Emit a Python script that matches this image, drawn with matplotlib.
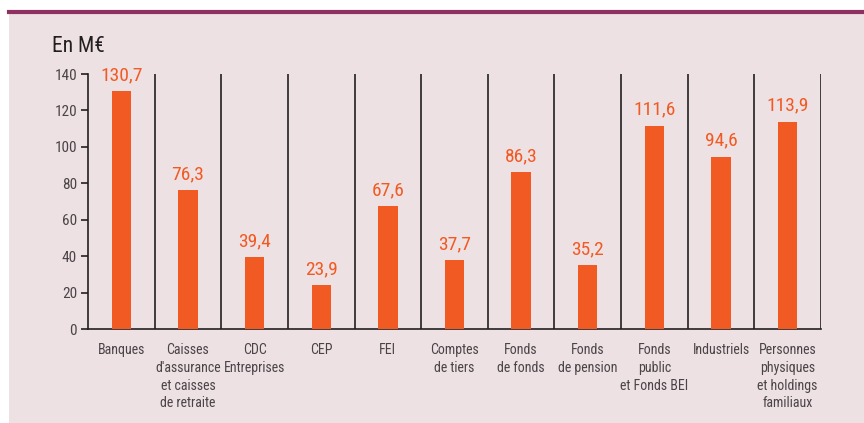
import matplotlib
matplotlib.use("Agg")
import matplotlib.pyplot as plt
from matplotlib.lines import Line2D
from matplotlib.patches import Rectangle
from matplotlib import font_manager

categories = ["Banques", "Caisses\nd'assurance\net caisses\nde retraite", "CDC\nEntreprises", "CEP", "FEI",
              "Comptes\nde tiers", "Fonds\nde fonds", "Fonds\nde pension", "Fonds\npublic\net Fonds BEI",
              "Industriels", "Personnes\nphysiques\net holdings\nfamiliaux"]
values = [130.7, 76.3, 39.4, 23.9, 67.6, 37.7, 86.3, 35.2, 111.6, 94.6, 113.9]
value_labels = ["130,7", "76,3", "39,4", "23,9", "67,6", "37,7", "86,3", "35,2", "111,6", "94,6", "113,9"]
yticks = [0, 20, 40, 60, 80, 100, 120, 140]

# pick a condensed font if one is installed
fonts = font_manager.fontManager.ttflist
names = {f.name for f in fonts}
family, stretch, condensed = None, "normal", False
for cand in ["Liberation Sans Narrow", "Roboto Condensed", "Open Sans Condensed", "DejaVu Sans Condensed",
             "Noto Sans Condensed", "Arial Narrow"]:
    if cand in names:
        family, condensed = cand, True
        break
if family is None:
    for f in fonts:
        if f.name in ("Roboto", "Open Sans", "Noto Sans", "DejaVu Sans", "Liberation Sans") and \
                str(f.stretch) in ("condensed", "semi-condensed", "extra-condensed", "75", "87.5") and f.weight in (400, "normal", "regular"):
            family, stretch, condensed = f.name, f.stretch, True
            break
if family is None:
    family = "Liberation Sans"

plt.rcParams['font.family'] = [family, 'DejaVu Sans']
plt.rcParams['font.stretch'] = stretch

cat_fs = 10 if condensed else 8.6
tick_fs = 11 if condensed else 10
val_fs = 14 if condensed else 12.5
title_fs = 15.5 if condensed else 14

BG = "#EDE1E4"
ORANGE = "#F15A22"
PURPLE = "#8E3060"
TXT = "#4a4446"

fig = plt.figure(figsize=(8.64, 4.23), dpi=100)
fig.patch.set_facecolor("white")
fig.patches.append(Rectangle((9/864, 0), 1, 1 - 14/423, transform=fig.transFigure,
                             facecolor=BG, edgecolor="none", zorder=-10))
fig.lines.append(Line2D([9/864, 1], [1 - 12.5/423, 1 - 12.5/423], transform=fig.transFigure,
                        color=PURPLE, lw=3))

ax = fig.add_axes([88/864, 1 - 329/423, (821 - 88)/864, (329 - 74)/423])
ax.set_facecolor("none")
n = len(categories)
x = list(range(n))
ax.bar(x, values, width=0.29, color=ORANGE, zorder=3)
ax.set_xlim(-0.5, n - 0.5)
ax.set_ylim(0, 140)
for i in range(n):
    ax.plot([i + 0.5, i + 0.5], [0, 140], color="#231f20", lw=1.2, zorder=2)
for i, (v, lab) in enumerate(zip(values, value_labels)):
    ax.annotate(lab, (i, v), xytext=(0, 5), textcoords="offset points", ha="center", va="bottom",
                color=ORANGE, fontsize=val_fs, clip_on=False)

for s in ["top", "right"]:
    ax.spines[s].set_visible(False)
for s in ["left", "bottom"]:
    ax.spines[s].set_color("#231f20")
    ax.spines[s].set_linewidth(1.2)
ax.set_yticks(yticks)
ax.set_yticklabels([str(t) for t in yticks], color=TXT, fontsize=tick_fs)
ax.tick_params(axis="y", length=5, width=1.2, color="#231f20", pad=3)
ax.set_xticks(x)
ax.set_xticklabels(categories, color=TXT, fontsize=cat_fs, linespacing=1.35, va="top")
ax.tick_params(axis="x", length=0, pad=10)

fig.text(52/864, 1 - 47/423, "En M€", fontsize=title_fs, color="#231f20", va="center", ha="left")

fig.savefig("out.png", dpi=100, facecolor=fig.get_facecolor())
